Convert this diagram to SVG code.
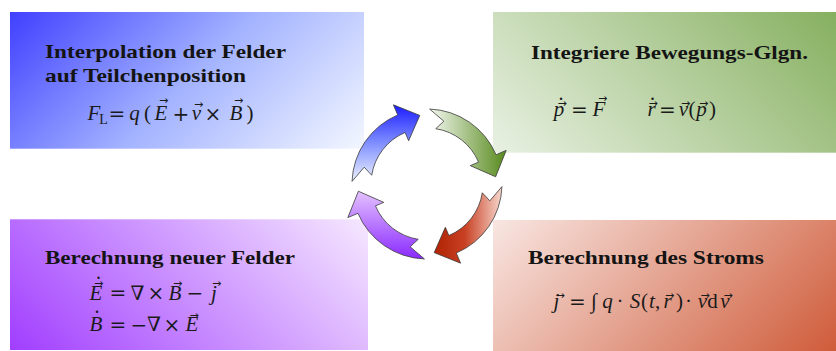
<svg xmlns="http://www.w3.org/2000/svg" xmlns:xlink="http://www.w3.org/1999/xlink" width="836" height="351" viewBox="0 0 836 351">
<style>
.h{font-family:"Liberation Serif","DejaVu Serif",serif;font-weight:bold;font-size:19px;fill:#141414}
.m{font-family:"Liberation Serif","DejaVu Serif",serif;font-size:21px;fill:#1a1a1a;text-anchor:middle}
.i{font-style:italic}
.sub{font-size:14px;font-style:normal}
.op{font-family:"DejaVu Serif",serif;font-size:20px;font-style:normal}
.acc{font-family:"DejaVu Sans",sans-serif;font-size:11px;font-style:normal}
.dt{font-family:"Liberation Serif",serif;font-size:20px;font-style:normal}
.arr{stroke:#3a3a3a;stroke-width:0.8;stroke-linejoin:round}
</style>
<defs>
<linearGradient id="bgBlue" gradientUnits="userSpaceOnUse" x1="10" y1="12" x2="255.35" y2="257.35">
<stop offset="0" stop-color="#4040ff"/><stop offset="0.5" stop-color="#a2b2ff"/><stop offset="1" stop-color="#f3f7ff"/>
</linearGradient>
<linearGradient id="bgGreen" gradientUnits="userSpaceOnUse" x1="493" y1="152.7" x2="734.85" y2="-89.15">
<stop offset="0" stop-color="#e9f1e3"/><stop offset="1" stop-color="#86b060"/>
</linearGradient>
<linearGradient id="bgPurple" gradientUnits="userSpaceOnUse" x1="10" y1="350" x2="254.35" y2="105.65">
<stop offset="0" stop-color="#a13eff"/><stop offset="1" stop-color="#f6e8ff"/>
</linearGradient>
<linearGradient id="bgRed" gradientUnits="userSpaceOnUse" x1="493" y1="220" x2="730" y2="457">
<stop offset="0" stop-color="#f8e6e2"/><stop offset="1" stop-color="#cf5c3a"/>
</linearGradient>
<linearGradient id="gaBlue" x1="0" y1="0" x2="0" y2="1">
<stop offset="0" stop-color="#1c1cff"/><stop offset="0.5" stop-color="#7f8fff"/><stop offset="1" stop-color="#eef3ff"/>
</linearGradient>
<linearGradient id="gaGreen" x1="0" y1="0" x2="0" y2="1">
<stop offset="0" stop-color="#578a1c"/><stop offset="1" stop-color="#f3f7ef"/>
</linearGradient>
<linearGradient id="gaRed" x1="0" y1="0" x2="1" y2="0">
<stop offset="0" stop-color="#f7d8cf"/><stop offset="0.55" stop-color="#c84022"/><stop offset="1" stop-color="#b02204"/>
</linearGradient>
<linearGradient id="gaPurple" x1="0" y1="0" x2="1" y2="0">
<stop offset="0" stop-color="#8a2aff"/><stop offset="1" stop-color="#e4c2ff"/>
</linearGradient>
<path id="ringArrow" d="M352.05,181.38 A75,75 0 0 1 397.70,114.96 L393.40,104.84 L419.79,115.38 L408.64,140.74 L405.12,132.45 A56,56 0 0 0 371.69,175.24 L364.21,167.18 Z"/>
</defs>

<rect width="836" height="351" fill="#ffffff"/>

<g id="node-interpolation">
<rect x="10" y="12" width="354" height="136.7" fill="url(#bgBlue)"/>
<text class="h" x="45" y="57.5" textLength="241" lengthAdjust="spacingAndGlyphs">Interpolation der Felder</text>
<text class="h" x="45" y="81.5" textLength="201" lengthAdjust="spacingAndGlyphs">auf Teilchenposition</text>
<text class="m"><tspan class="i" x="94" y="120">F</tspan><tspan class="sub" x="103.5" y="123.5">L</tspan><tspan class="op" x="117" y="120.5">=</tspan><tspan class="i" x="134.5" y="120">q</tspan><tspan x="147.5" y="120">(</tspan><tspan class="i" x="161" y="120">E</tspan><tspan class="acc" x="163.5" y="104">→</tspan><tspan class="op" x="181" y="120.5">+</tspan><tspan class="i" x="196.5" y="120">v</tspan><tspan class="acc" x="198.5" y="108">→</tspan><tspan class="op" x="213" y="120.5">×</tspan><tspan class="i" x="236" y="120">B</tspan><tspan class="acc" x="238.5" y="104">→</tspan><tspan x="250" y="120">)</tspan></text>
</g>

<g id="node-integrate">
<rect x="493" y="12" width="343" height="140.7" fill="url(#bgGreen)"/>
<text class="h" x="531" y="59" textLength="277" lengthAdjust="spacingAndGlyphs">Integriere Bewegungs-Glgn.</text>
<text class="m"><tspan class="i" x="559" y="116">p</tspan><tspan class="dt" x="561" y="100">.</tspan><tspan class="acc" x="562" y="106.5">→</tspan><tspan class="op" x="579.5" y="116.5">=</tspan><tspan class="i" x="599" y="116">F</tspan><tspan class="acc" x="602.5" y="101.5">→</tspan><tspan class="i" x="651.5" y="116">r</tspan><tspan class="dt" x="652.5" y="100">.</tspan><tspan class="acc" x="653" y="106.5">→</tspan><tspan class="op" x="667.5" y="116.5">=</tspan><tspan class="i" x="683.5" y="116">v</tspan><tspan class="acc" x="685.5" y="106.5">→</tspan><tspan x="692" y="116">(</tspan><tspan class="i" x="701.5" y="116">p</tspan><tspan class="acc" x="703.5" y="106.5">→</tspan><tspan x="712.5" y="116">)</tspan></text>
</g>

<g id="node-current">
<rect x="493" y="220" width="343" height="131" fill="url(#bgRed)"/>
<text class="h" x="528" y="264" textLength="236" lengthAdjust="spacingAndGlyphs">Berechnung des Stroms</text>
<text class="m"><tspan class="i" x="556.5" y="308">j</tspan><tspan class="acc" x="560" y="298.5">→</tspan><tspan class="op" x="577.5" y="308.5">=</tspan><tspan x="594" y="308">∫</tspan><tspan class="i" x="607.5" y="308">q</tspan><tspan x="620" y="308">·</tspan><tspan class="i" x="635" y="308">S</tspan><tspan x="644.5" y="308">(</tspan><tspan class="i" x="652" y="308">t</tspan><tspan x="657.5" y="308">,</tspan><tspan class="i" x="667.5" y="308">r</tspan><tspan class="acc" x="669.5" y="298.5">→</tspan><tspan x="679.5" y="308">)</tspan><tspan x="688.5" y="308">·</tspan><tspan class="i" x="702.5" y="308">v</tspan><tspan class="acc" x="705" y="298.5">→</tspan><tspan x="712.5" y="308">d</tspan><tspan class="i" x="725" y="308">v</tspan><tspan class="acc" x="728" y="298.5">→</tspan></text>
</g>

<g id="node-fields">
<rect x="10" y="219.3" width="358" height="130.7" fill="url(#bgPurple)"/>
<text class="h" x="45" y="264" textLength="250" lengthAdjust="spacingAndGlyphs">Berechnung neuer Felder</text>
<text class="m"><tspan class="i" x="96" y="299.5">E</tspan><tspan class="dt" x="98.5" y="279">.</tspan><tspan class="acc" x="98.5" y="287">→</tspan><tspan class="op" x="118" y="300">=</tspan><tspan class="op" x="137.5" y="299.5">∇</tspan><tspan class="op" x="156" y="300">×</tspan><tspan class="i" x="175" y="299.5">B</tspan><tspan class="acc" x="177.5" y="287">→</tspan><tspan class="op" x="195" y="300">−</tspan><tspan class="i" x="214" y="299.5">j</tspan><tspan class="acc" x="216.5" y="287">→</tspan></text>
<text class="m"><tspan class="i" x="96" y="331">B</tspan><tspan class="dt" x="97" y="313">.</tspan><tspan class="op" x="118" y="331.5">=</tspan><tspan class="op" x="139" y="331.5">−</tspan><tspan class="op" x="154" y="331">∇</tspan><tspan class="op" x="172" y="331.5">×</tspan><tspan class="i" x="192" y="331">E</tspan><tspan class="acc" x="194" y="318.5">→</tspan></text>
</g>

<g id="connectors">
<use xlink:href="#ringArrow" class="arr" fill="url(#gaBlue)"/>
<use xlink:href="#ringArrow" class="arr" fill="url(#gaGreen)" transform="rotate(90 427 184)"/>
<use xlink:href="#ringArrow" class="arr" fill="url(#gaRed)" transform="rotate(180 427 184)"/>
<use xlink:href="#ringArrow" class="arr" fill="url(#gaPurple)" transform="rotate(270 427 184)"/>
</g>
</svg>
